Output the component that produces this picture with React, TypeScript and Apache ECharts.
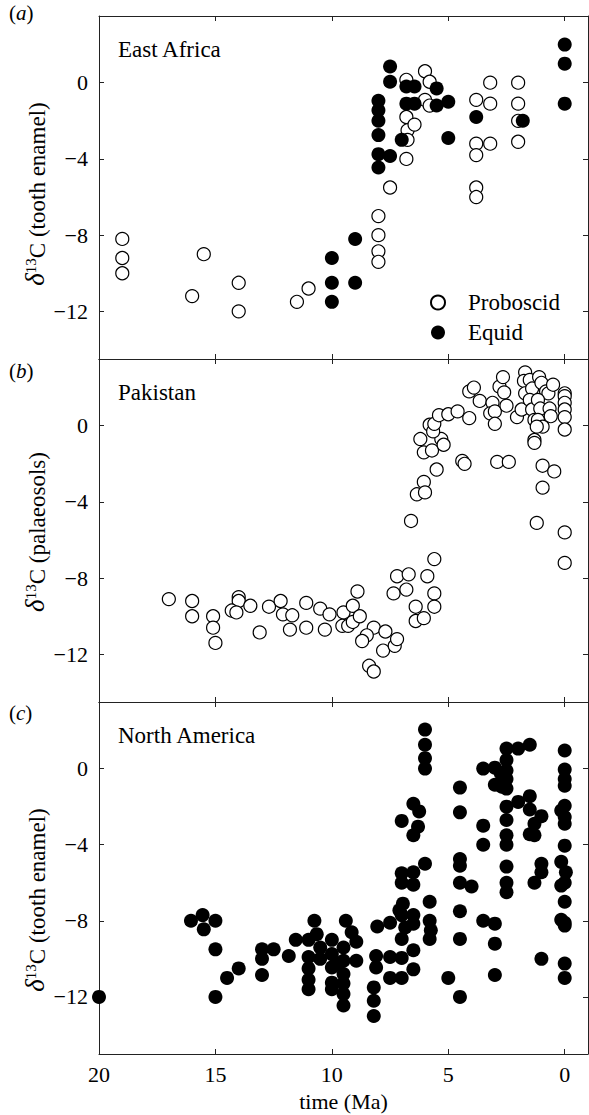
import React, { useEffect, useRef } from "react";
import * as echarts from "echarts";

const FONT = "'Liberation Serif', 'Times New Roman', serif";

// time (Ma), δ13C
const eastAfricaProboscid: number[][] = [
  [19.0, -8.2], [19.0, -9.2], [19.0, -10.0], [15.5, -9.0], [16.0, -11.2], [14.0, -10.5], [14.0, -12.0],
  [11.0, -10.8], [11.5, -11.5],
  [8.0, -7.0], [8.0, -8.0], [8.0, -8.85], [8.0, -9.4], [7.5, -5.5],
  [6.8, 0.15], [6.8, -1.8], [6.75, -2.5], [6.75, -3.0], [6.8, -4.0], [6.45, -2.2],
  [6.0, 0.6], [5.8, 0.05], [6.0, -0.9], [5.8, -1.2],
  [3.8, -0.9], [3.2, 0.0], [3.2, -1.1], [3.2, -3.2], [3.8, -3.2], [3.8, -3.8], [3.8, -5.5], [3.8, -6.0],
  [2.0, 0.0], [2.0, -1.1], [2.0, -2.0], [2.0, -3.1],
];

const eastAfricaEquid: number[][] = [
  [10.0, -9.2], [10.0, -10.5], [10.0, -11.5], [9.0, -8.2], [9.0, -10.5],
  [8.0, -0.95], [8.0, -1.45], [8.0, -2.0], [8.0, -2.75], [8.0, -3.75], [8.0, -4.45], [7.5, -3.85],
  [7.5, 0.85], [7.5, 0.05], [7.0, -3.0],
  [6.8, -0.2], [6.45, -0.2], [6.8, -1.1], [6.45, -1.1],
  [5.5, -0.3], [5.5, -1.2], [5.0, -1.0], [5.0, -2.9],
  [3.8, -1.8], [1.8, -2.0],
  [0.0, 2.0], [0.0, 1.0], [0.0, -1.1],
];

const pakistan: number[][] = [
  [17.0, -9.1], [16.0, -9.2], [16.0, -10.0], [15.1, -10.0], [15.1, -10.6], [15.0, -11.4],
  [14.0, -9.0], [14.0, -9.2], [14.3, -9.7], [14.1, -9.8], [13.5, -9.45], [13.1, -10.85], [12.7, -9.5],
  [12.2, -9.2], [12.1, -9.9], [11.7, -9.95], [11.8, -10.7], [11.1, -9.3], [11.1, -10.6], [10.5, -9.6],
  [10.3, -10.7], [10.1, -9.9],
  [9.5, -9.8], [9.1, -9.45], [8.9, -8.7], [9.55, -10.5], [9.3, -10.5], [9.1, -10.3], [8.8, -10.0],
  [8.2, -10.6], [8.5, -11.0], [8.7, -11.3], [7.7, -10.8], [7.8, -11.8], [7.3, -11.55], [7.2, -11.2],
  [8.4, -12.6], [8.2, -12.9],
  [7.35, -8.8], [7.2, -7.9], [6.7, -7.8], [6.8, -8.6], [6.4, -9.5], [6.4, -10.25], [6.05, -10.1],
  [5.9, -7.9], [5.6, -7.0], [5.6, -8.8], [5.6, -9.5],
  [6.6, -5.0], [6.35, -3.6], [6.05, -2.95], [6.0, -3.5], [5.5, -2.3], [6.05, -1.4], [5.7, -1.3],
  [6.2, -0.7], [5.3, -0.7], [5.2, -1.0], [5.8, 0.05], [5.65, -0.3], [5.6, 0.1], [5.4, 0.55], [5.0, 0.6],
  [4.6, 0.75], [4.1, 0.4], [4.4, -1.85], [4.3, -2.0],
  [4.1, 1.8], [3.9, 2.0], [3.65, 1.3], [3.1, 1.2], [3.2, 0.65], [3.0, 0.75], [3.0, 0.1], [2.8, 2.05],
  [2.65, 2.55], [2.6, 1.75], [2.5, 1.05], [2.9, -1.9], [2.4, -1.9], [2.05, 0.45],
  [1.7, 2.8], [1.75, 2.35], [1.7, 1.7], [1.85, 0.85], [1.5, 2.4], [1.4, 1.95], [1.5, 1.35], [1.4, 0.85],
  [1.3, 0.3], [1.1, 2.55], [1.0, 2.25], [0.8, 1.8], [0.7, 1.7], [0.5, 2.15], [1.15, 1.35], [1.05, 0.9],
  [1.15, 0.3], [0.95, -0.05], [1.2, -0.05], [0.65, 0.9], [0.6, 0.5], [1.3, -0.75], [1.3, -0.9],
  [0.95, -2.1], [0.45, -2.4], [0.95, -3.25], [1.2, -5.1],
  [0.0, 1.7], [0.0, 1.55], [0.0, 1.2], [0.0, 0.85], [0.0, 0.45], [0.0, -0.2], [0.0, -5.6], [0.0, -7.2],
];

const northAmerica: number[][] = [
  [20.0, -12.0],
  [16.05, -8.0], [15.55, -7.7], [15.5, -8.45], [15.0, -8.0], [15.0, -9.5], [15.0, -12.0],
  [14.5, -11.0], [14.0, -10.5],
  [13.0, -9.5], [13.0, -10.0], [13.0, -10.85], [12.5, -9.5], [11.85, -9.85], [11.55, -9.0],
  [11.0, -9.0], [10.75, -8.0], [10.65, -8.7], [10.5, -9.4], [10.5, -10.0],
  [11.0, -9.9], [11.0, -10.5], [11.0, -11.1], [11.0, -11.6],
  [10.0, -9.0], [10.0, -9.75], [10.0, -10.45], [10.0, -11.25], [10.0, -11.6],
  [9.4, -8.0], [9.15, -8.6], [8.95, -9.1], [8.95, -10.1], [9.5, -9.4], [9.5, -10.1], [9.5, -10.8],
  [9.5, -11.3], [9.5, -11.85], [9.5, -12.45], [9.7, -10.25],
  [8.05, -8.3], [8.1, -9.85], [8.1, -10.45], [8.2, -11.5], [8.2, -12.2], [8.2, -13.0],
  [7.5, -8.1], [7.5, -9.9], [7.5, -11.0],
  [7.1, -7.45], [6.95, -7.1], [7.0, -7.7], [6.5, -7.7], [6.5, -8.15], [6.85, -8.35], [7.0, -8.95],
  [6.5, -9.55], [7.0, -9.95], [6.5, -10.55], [7.0, -11.0],
  [5.8, -7.0], [5.8, -8.0], [5.75, -8.5], [5.8, -8.95],
  [7.0, -5.5], [6.5, -5.45], [7.0, -6.0], [6.5, -6.1], [6.0, -5.0],
  [6.5, -1.85], [6.25, -2.25], [7.0, -2.75], [6.3, -3.05], [6.5, -3.5],
  [6.0, 2.05], [6.0, 1.25], [6.0, 0.55], [6.0, 0.0],
  [5.0, -11.0],
  [4.5, -1.0], [4.5, -2.3], [4.5, -4.75], [4.5, -5.1], [4.5, -6.0], [4.0, -6.2], [4.5, -7.5],
  [4.5, -8.95], [4.5, -12.0],
  [3.5, 0.0], [3.5, -3.0], [3.5, -4.0], [3.5, -8.0], [3.0, -8.15], [3.0, -9.2], [3.0, -10.85],
  [3.0, 0.05], [3.0, -0.85], [2.75, -0.25], [2.7, -0.95],
  [2.5, 1.05], [2.0, 1.05], [1.5, 1.25],
  [2.5, 0.45], [2.5, -0.1], [2.5, -0.55], [2.5, -1.05], [2.5, -2.0], [2.0, -1.75], [1.5, -1.45],
  [1.5, -2.15], [1.0, -2.5], [1.3, -2.9], [1.5, -3.45], [1.3, -3.5],
  [2.5, -2.7], [2.5, -3.5], [2.5, -4.0], [2.5, -5.15], [2.5, -6.0], [2.5, -6.5],
  [1.0, -5.0], [1.0, -5.45], [1.3, -6.0], [1.0, -10.0],
  [0.0, 0.95], [0.0, -0.05], [0.0, -0.55], [0.0, -0.9], [0.0, -1.95], [0.15, -2.2], [0.0, -2.55],
  [0.0, -2.9], [0.0, -4.05], [0.15, -4.9], [-0.05, -5.45], [0.0, -6.0], [0.15, -6.15], [0.0, -7.0],
  [0.15, -7.95], [0.0, -8.1], [0.0, -8.25], [0.0, -10.25], [0.0, -11.0],
];

const xTicks = [0, 5, 10, 15, 20];
const yTicks = [-12, -8, -4, 0];
const panelNames = ["East Africa", "Pakistan", "North America"];
const panelLetters = ["a", "b", "c"];
const yTitles = ["C (tooth enamel)", "C (palaeosols)", "C (tooth enamel)"];
const yMins = [-14.5, -14.5, -15];
const yMax = 3.5;

const LEFT = 99;
const RIGHT = 1;
const tops = [16, 359, 702];
const heights = [343, 343, 352];
const INK = "#000";
const AX = "#222";

const fmt = (v: number) => String(v).replace("-", "\u2212");

export default function App() {
  const ref = useRef<HTMLDivElement>(null);
  useEffect(() => {
    if (!ref.current) return;
    const chart = echarts.init(ref.current, undefined, { renderer: "svg" });

    const grid = tops.map((t, i) => ({ left: LEFT, right: RIGHT, top: t, height: heights[i] }));

    const xAxis: any[] = [];
    const yAxis: any[] = [];
    for (let i = 0; i < 3; i++) {
      for (const pos of ["bottom", "top"]) {
        const showLab = i === 2 && pos === "bottom";
        xAxis.push({
          type: "value",
          gridIndex: i,
          position: pos,
          min: -1,
          max: 20,
          inverse: true,
          name: showLab ? "time (Ma)" : "",
          nameLocation: "middle",
          nameGap: 36,
          nameTextStyle: { fontFamily: FONT, fontSize: 22, color: INK },
          axisLine: { show: true, onZero: false, lineStyle: { color: AX, width: 1 } },
          axisTick: { show: true, inside: true, length: 5, customValues: xTicks, lineStyle: { color: AX } },
          axisLabel: {
            show: showLab,
            customValues: xTicks,
            margin: 9,
            fontFamily: FONT,
            fontSize: 22,
            color: INK,
            formatter: fmt,
          },
          splitLine: { show: false },
        });
      }
      for (const pos of ["left", "right"]) {
        const showLab = pos === "left";
        yAxis.push({
          type: "value",
          gridIndex: i,
          position: pos,
          min: yMins[i],
          max: yMax,
          axisLine: { show: true, onZero: false, lineStyle: { color: AX, width: 1 } },
          axisTick: { show: true, inside: true, length: 5, customValues: yTicks, lineStyle: { color: AX } },
          axisLabel: {
            show: showLab,
            customValues: yTicks,
            margin: 11,
            fontFamily: FONT,
            fontSize: 22,
            color: INK,
            formatter: fmt,
          },
          splitLine: { show: false },
        });
      }
    }

    const openStyle = { color: "#fff", borderColor: "#000", borderWidth: 1.2, opacity: 1 };
    const fillStyle = { color: "#000", borderColor: "#000", borderWidth: 0, opacity: 1 };

    const series: any[] = [
      {
        name: "Proboscid",
        type: "scatter",
        xAxisIndex: 0,
        yAxisIndex: 0,
        symbol: "circle",
        symbolSize: 13,
        itemStyle: openStyle,
        data: eastAfricaProboscid,
      },
      {
        name: "Equid",
        type: "scatter",
        xAxisIndex: 0,
        yAxisIndex: 0,
        symbol: "circle",
        symbolSize: 14,
        itemStyle: fillStyle,
        data: eastAfricaEquid,
      },
      {
        name: "Pakistan",
        type: "scatter",
        xAxisIndex: 2,
        yAxisIndex: 2,
        symbol: "circle",
        symbolSize: 13,
        itemStyle: openStyle,
        data: pakistan,
      },
      {
        name: "North America",
        type: "scatter",
        xAxisIndex: 4,
        yAxisIndex: 4,
        symbol: "circle",
        symbolSize: 14,
        itemStyle: fillStyle,
        data: northAmerica,
      },
    ];

    const graphic: any[] = [];
    for (let i = 0; i < 3; i++) {
      graphic.push({
        type: "text",
        x: 118,
        y: tops[i] + 33,
        style: {
          text: panelNames[i],
          fontFamily: FONT,
          fontSize: 23,
          fill: INK,
          align: "left",
          verticalAlign: "middle",
        },
      });
      graphic.push({
        type: "text",
        x: 9,
        y: [13, 371, 713][i],
        style: {
          text: `{p|(}{i|${panelLetters[i]}}{p|)}`,
          align: "left",
          verticalAlign: "middle",
          rich: {
            p: { fontFamily: FONT, fontSize: 21, fill: INK },
            i: { fontFamily: FONT, fontSize: 21, fontStyle: "italic", fill: INK },
          },
        },
      });
      graphic.push({
        type: "text",
        x: 35,
        y: [194, 532, 900][i],
        rotation: Math.PI / 2,
        style: {
          text: `{d|δ}{s|13}{c|${yTitles[i]}}`,
          align: "center",
          verticalAlign: "middle",
          rich: {
            d: { fontFamily: FONT, fontSize: 27, fontStyle: "italic", fill: INK, verticalAlign: "bottom" },
            s: { fontFamily: FONT, fontSize: 15, fill: INK, verticalAlign: "bottom", padding: [0, 0, 10, 0] },
            c: { fontFamily: FONT, fontSize: 23, fill: INK, verticalAlign: "bottom" },
          },
        },
      });
    }

    chart.setOption({
      animation: false,
      backgroundColor: "#fff",
      grid,
      xAxis,
      yAxis,
      legend: {
        data: ["Proboscid", "Equid"],
        orient: "vertical",
        left: 430,
        top: 291,
        padding: 0,
        itemWidth: 14,
        itemHeight: 14,
        itemGap: 7,
        icon: "circle",
        selectedMode: false,
        textStyle: { fontFamily: FONT, fontSize: 23, color: INK, padding: [0, 0, 0, 18] },
      },
      graphic,
      series,
    });
    return () => chart.dispose();
  }, []);
  return (
    <div
      ref={ref}
      style={{ position: "absolute", left: 0, top: 0, width: 589, height: 1115, background: "#fff" }}
    />
  );
}
